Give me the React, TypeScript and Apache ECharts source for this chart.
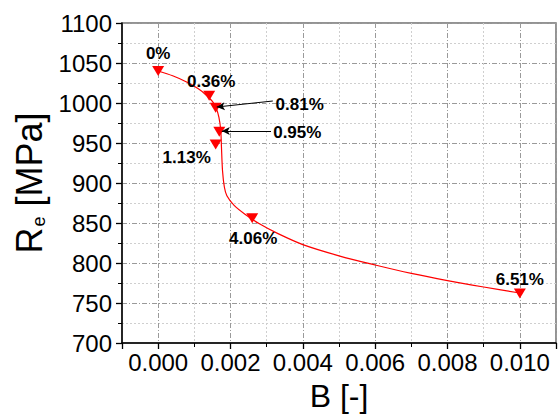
import React, { useEffect, useRef } from 'react';
import * as echarts from 'echarts';

// Measured points (B [-], Re [MPa]) with their boron content labels
const bValues = [0, 0.00141, 0.00159, 0.00169, 0.00159, 0.0026, 0.01];
const reValues = [1040, 1009, 994, 964, 948, 856, 762];
const pointLabels = ['0%', '0.36%', '0.81%', '0.95%', '1.13%', '4.06%', '6.51%'];

// Red fitted curve
const fitB = [0.0, 0.0004, 0.0008, 0.0011, 0.0013, 0.0015, 0.0016, 0.00168, 0.00173, 0.00175, 0.00178, 0.00183, 0.0019, 0.0021, 0.0024, 0.0028, 0.0033, 0.004, 0.005, 0.006, 0.007, 0.008, 0.009, 0.01];
const fitRe = [1040, 1034, 1026, 1018, 1011, 1002, 994, 982, 966, 945, 915, 895, 884, 872, 861, 849, 837, 823, 809, 797.5, 787, 778, 770, 762.5];

// Leader arrows (label side -> point)
const arrowFrom = [[0.00317, 1002.5], [0.00312, 965]];
const arrowTo = [[0.00162, 995], [0.00176, 965]];

// label offsets in px (style)
const labelOffsets = [[0, -18], [2, -14], [84, -3], [78, 1], [-29, 13], [1, 20], [0, -14]];

const FONT = 'Liberation Sans, Arial, sans-serif';

export default function App() {
  const ref = useRef<HTMLDivElement>(null);
  useEffect(() => {
    if (!ref.current) return;
    const chart = echarts.init(ref.current, null, { renderer: 'svg' });
    const scatterData = bValues.map((b, i) => ({
      value: [b, reValues[i]],
      name: pointLabels[i],
      label: { offset: labelOffsets[i] },
    }));
    chart.setOption({
      animation: false,
      backgroundColor: '#ffffff',
      grid: {
        left: 122, right: 3, top: 23, bottom: 74,
        outerBoundsMode: 'none', containLabel: false,
        show: true, borderColor: '#707070', borderWidth: 1.5, backgroundColor: 'transparent',
      },
      xAxis: {
        type: 'value', min: -0.001, max: 0.011, splitNumber: 6, minInterval: 0.002, maxInterval: 0.002,
        axisLine: { show: true, onZero: false, lineStyle: { color: '#000', width: 1.5 } },
        axisTick: { show: true, length: 6, lineStyle: { color: '#000', width: 1.3 } },
        minorTick: { show: true, splitNumber: 2, length: 4, lineStyle: { color: '#000', width: 1 } },
        axisLabel: {
          fontSize: 24, color: '#000', fontFamily: FONT, margin: 7,
          formatter: (v: number) => (v < -0.0005 || v > 0.0105 ? '' : v.toFixed(3)),
        },
        splitLine: { show: true, lineStyle: { color: '#9a9a9a', type: [5, 2, 1, 2], width: 1 } },
        minorSplitLine: { show: true, lineStyle: { color: '#cfcfcf', type: [2, 2], width: 1 } },
        name: 'B [-]', nameLocation: 'middle', nameGap: 37,
        nameTextStyle: { fontSize: 32, color: '#000', fontFamily: FONT },
      },
      yAxis: {
        type: 'value', min: 700, max: 1100, interval: 50,
        axisLine: { show: true, onZero: false, lineStyle: { color: '#000', width: 1.5 } },
        axisTick: { show: true, length: 6, lineStyle: { color: '#000', width: 1.3 } },
        minorTick: { show: true, splitNumber: 2, length: 4, lineStyle: { color: '#000', width: 1 } },
        axisLabel: { fontSize: 24, color: '#000', fontFamily: FONT, margin: 10, formatter: (v: number) => String(v) },
        splitLine: { show: true, lineStyle: { color: '#9a9a9a', type: [5, 2, 1, 2], width: 1 } },
        minorSplitLine: { show: true, lineStyle: { color: '#cfcfcf', type: [2, 2], width: 1 } },
        name: '{r|R}{s|e}{r| [MPa]}', nameLocation: 'middle', nameGap: 62,
        nameTextStyle: {
          color: '#000', fontFamily: FONT,
          rich: {
            r: { fontSize: 36, lineHeight: 36, verticalAlign: 'top', fontFamily: FONT, color: '#000' },
            s: { fontSize: 18, lineHeight: 18, padding: [24, 0, 0, 1], verticalAlign: 'bottom', fontFamily: FONT, color: '#000' },
          },
        },
      },
      series: [
        {
          type: 'line',
          data: fitB.map((b, i) => [b, fitRe[i]]),
          smooth: 0.3,
          showSymbol: false,
          lineStyle: { color: '#ff0000', width: 1.2 },
          z: 2,
          silent: true,
        },
        {
          type: 'scatter',
          data: scatterData,
          symbol: 'triangle',
          symbolRotate: 180,
          symbolSize: [12, 10],
          itemStyle: { color: '#ff0000', opacity: 1 },
          z: 3,
          label: {
            show: true, position: 'inside', formatter: '{b}',
            fontSize: 17, fontWeight: 'bold', color: '#000', fontFamily: FONT,
            textBorderWidth: 0, opacity: 1,
          },
          markLine: {
            silent: true,
            symbol: ['none', 'arrow'],
            symbolSize: [6, 8],
            label: { show: false },
            lineStyle: { color: '#000', width: 1, type: 'solid', opacity: 1 },
            data: arrowFrom.map((f, i) => [{ coord: f }, { coord: arrowTo[i] }]),
          },
        },
      ],
    });
    return () => chart.dispose();
  }, []);
  return <div ref={ref} style={{ position: 'fixed', left: 0, top: 0, width: 559, height: 417 }} />;
}
